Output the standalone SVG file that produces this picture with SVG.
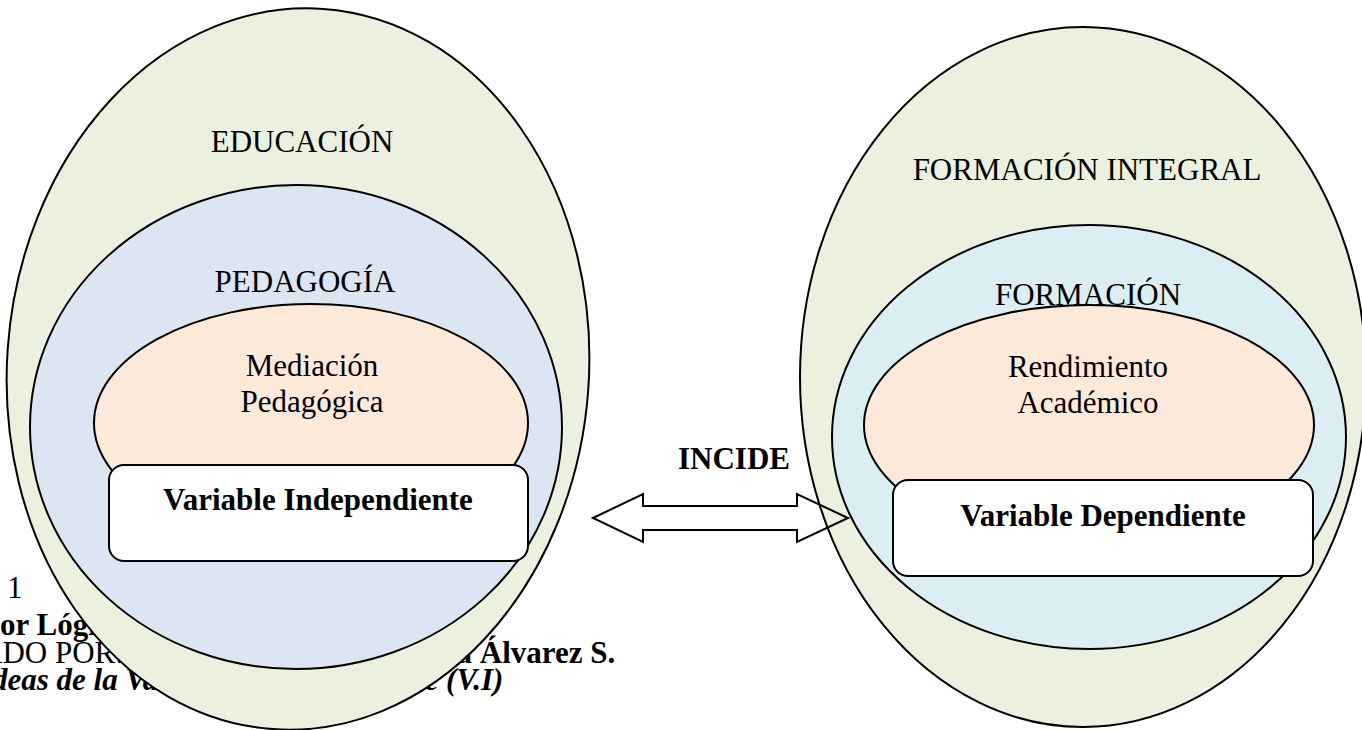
<svg xmlns="http://www.w3.org/2000/svg" width="1362" height="730" viewBox="0 0 1362 730">
  <style>
    .t { font-family: "Liberation Serif", "Times New Roman", serif; font-size: 31px; fill: #000; }
    .c { text-anchor: middle; }
    .b { font-weight: bold; }
    .i { font-style: italic; }
    .sh { stroke: #000; stroke-width: 2; }
    .green { fill: #EBF1DE; }
    .blueL { fill: #DCE6F2; }
    .blueR { fill: #DAEEF3; }
    .orange { fill: #FDE9D9; }
    .box { fill: #FFFFFF; }
  </style>
  <rect width="1362" height="730" fill="#FFFFFF"/>

  <g id="caption">
    <text class="t" x="7" y="598">1</text>
    <text class="t b" x="0" y="635">or Lógi</text>
    <text class="t" x="-20" y="663">ADO POR:</text>
    <text class="t b" x="448" y="663">ía Álvarez S.</text>
    <text class="t b i" x="-8" y="690">deas de la Varia</text>
    <text class="t b i" x="416" y="690">te (V.I)</text>
  </g>

  <g id="educacion">
    <ellipse class="green sh" cx="298" cy="369" rx="291" ry="361" transform="rotate(4 298 369)"/>
    <text class="t c" x="302" y="152">EDUCACIÓN</text>
  </g>
  <g id="pedagogia">
    <ellipse class="blueL sh" cx="296" cy="427" rx="266" ry="242"/>
    <text class="t c" x="305" y="292">PEDAGOGÍA</text>
  </g>
  <g id="mediacion">
    <ellipse class="orange sh" cx="311" cy="423" rx="217" ry="119"/>
    <text class="t c" x="312" y="376">Mediación</text>
    <text class="t c" x="312" y="412">Pedagógica</text>
  </g>
  <g id="variable-independiente">
    <rect class="box sh" x="109" y="465" width="419" height="96" rx="15" ry="15"/>
    <text class="t c b" x="318" y="510">Variable Independiente</text>
  </g>

  <g id="formacion-integral">
    <ellipse class="green sh" cx="1083" cy="377" rx="283" ry="350"/>
    <text class="t c" x="1087" y="180">FORMACIÓN INTEGRAL</text>
  </g>
  <g id="formacion">
    <ellipse class="blueR sh" cx="1089" cy="437" rx="257" ry="212"/>
  </g>
  <g id="rendimiento">
    <ellipse class="orange sh" cx="1089" cy="425" rx="225" ry="120"/>
    <text class="t c" x="1088" y="377">Rendimiento</text>
    <text class="t c" x="1088" y="413">Académico</text>
  </g>
  <g id="formacion-label">
    <text class="t c" x="1088" y="305">FORMACIÓN</text>
  </g>
  <g id="variable-dependiente">
    <rect class="box sh" x="893" y="480" width="420" height="96" rx="15" ry="15"/>
    <text class="t c b" x="1103" y="526">Variable Dependiente</text>
  </g>

  <g id="connectors">
    <polygon points="593,518 643,494 643,506 797,506 797,494 848,518 797,542 797,530 643,530 643,542" fill="none" stroke="#000" stroke-width="2" stroke-linejoin="miter"/>
    <text class="t c b" x="734" y="469">INCIDE</text>
  </g>
</svg>
